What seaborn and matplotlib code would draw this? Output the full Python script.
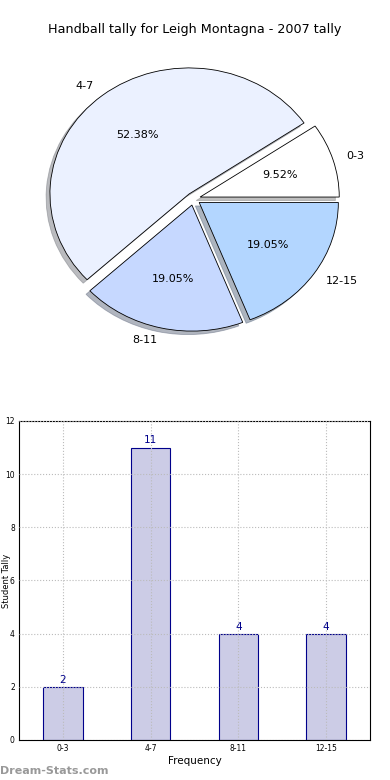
import matplotlib
matplotlib.use("Agg")
import matplotlib.pyplot as plt
import seaborn as sns

# tally data
groups = ["0-3", "4-7", "8-11", "12-15"]
tally = [2, 11, 4, 4]
pie_colors = ["#FFFFFF", "#EBF1FF", "#C6D8FF", "#B3D6FF"]

sns.set_style("white")
plt.rcParams["font.family"] = ["DejaVu Sans"]
plt.rcParams["text.color"] = "black"
plt.rcParams["xtick.color"] = "black"
plt.rcParams["ytick.color"] = "black"
plt.rcParams["axes.labelcolor"] = "black"

fig = plt.figure(figsize=(3.9, 7.8), dpi=100)

# pie on top
ax1 = fig.add_axes([0.05, 0.543, 0.892, 0.404])
ax1.pie(tally, labels=groups, colors=pie_colors, explode=[0.05] * 4,
        autopct="%1.2f%%", shadow={"ox": -0.02, "oy": -0.02, "shade": 0.5}, startangle=0,
        wedgeprops={"edgecolor": "black", "linewidth": 0.6},
        textprops={"fontsize": 8, "color": "black"})
ax1.set_aspect("auto")
ax1.set_xlim(-1.25, 1.25)
ax1.set_ylim(-1.25, 1.25)
fig.text(0.5, 1 - 30 / 780, "Handball tally for Leigh Montagna - 2007 tally",
         ha="center", va="center", fontsize=9.2)

# bar chart below
ax2 = fig.add_axes([0.0487, 0.0513, 0.9, 0.409])
sns.barplot(x=groups, y=tally, color="#CCCCE6", saturation=1, width=0.45,
            edgecolor="#00008B", linewidth=0.8, ax=ax2)
ax2.set_xlim(-0.5, 3.5)
ax2.set_ylim(0, 12)
ax2.set_yticks(range(0, 13, 2))
ax2.grid(True, linestyle=":", color="#BBBBBB", linewidth=0.8)
ax2.set_axisbelow(False)
for i, v in enumerate(tally):
    ax2.text(i, v + 0.08, str(v), ha="center", va="bottom", fontsize=7.5, color="#00008B")
ax2.tick_params(axis="both", labelsize=5.5, direction="in", length=3, pad=3)
ax2.set_xlabel("Frequency", fontsize=7.5, labelpad=2)
ax2.set_ylabel("Student Tally", fontsize=6)
ax2.yaxis.set_label_coords(-0.024, 0.5)
for s in ax2.spines.values():
    s.set_color("black")
    s.set_linewidth(0.8)

fig.text(0.0, 1 - 771 / 780, "Dream-Stats.com", fontsize=8, color="#999999",
         fontweight="bold", ha="left", va="center")

fig.savefig("out.png", dpi=100)
